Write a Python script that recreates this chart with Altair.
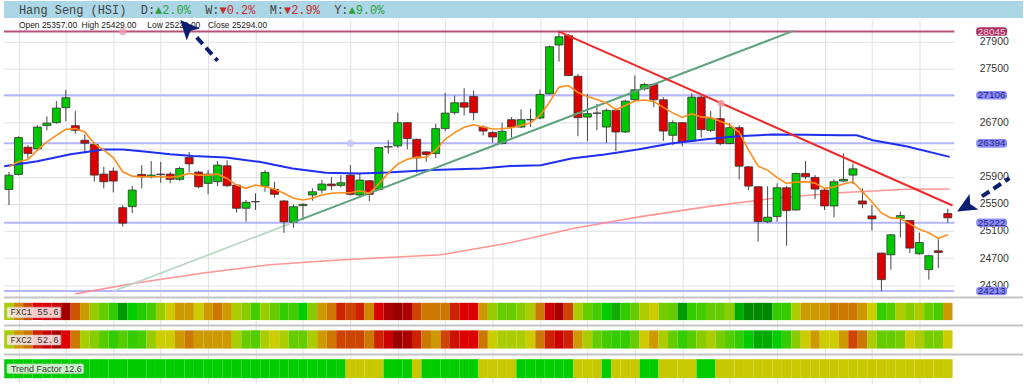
import altair as alt
import pandas as pd

# ---------------- data ----------------
opens = [25713, 25935, 26337, 26312, 26656, 26700, 26921, 26656, 26440, 26377,
         25940, 25984, 25444, 25459, 25935, 25900, 25940, 25940, 25862, 26185,
         25969, 25803, 25827, 26062, 25778, 25435, 25530, 25763, 25715, 25543,
         25229, 25474, 25631, 25704, 25793, 25773, 25925, 25631, 25841, 25715,
         26340, 26356, 26700, 26454, 26268, 26244, 26612, 26847, 26994, 27087,
         26635, 26553, 26391, 26744, 26635, 26740, 26768, 27126, 27847, 27984,
         27385, 26782, 26838, 26635, 26881, 26562, 27038, 27200, 27263, 27038,
         26513, 26700, 26429, 27076, 26587, 26759, 26391, 26626, 26047, 25753,
         25238, 25312, 25738, 25410, 25950, 25891, 25704, 25469, 25837, 25925,
         25543, 25322, 24773, 24748, 25288, 25253, 24763, 24528, 24807, 25357]
highs = [25972, 26499, 26367, 26660, 26793, 27018, 27185, 26871, 26523, 26391,
         26047, 26038, 25484, 25768, 26072, 26131, 26121, 25972, 26047, 26268,
         25988, 25998, 26131, 26145, 25793, 25557, 25656, 25998, 25827, 25557,
         25494, 25509, 25729, 25852, 25900, 25925, 26072, 25940, 25852, 26341,
         26440, 26847, 26709, 26465, 26278, 26685, 27141, 27100, 27209, 27175,
         26660, 26576, 26700, 26782, 26896, 26906, 27190, 27837, 28045, 28009,
         27421, 27126, 26979, 26906, 26906, 27038, 27396, 27288, 27282, 27076,
         26734, 26709, 27135, 27100, 26871, 27028, 26694, 26660, 26057, 25763,
         25760, 25803, 25763, 25959, 26135, 25925, 25729, 25862, 26244, 26097,
         25729, 25484, 24778, 25053, 25385, 25263, 25077, 24748, 24979, 25429]
lows = [25484, 25920, 26171, 26293, 26587, 26685, 26719, 26538, 26244, 25830,
        25729, 25671, 25165, 25362, 25729, 25876, 25812, 25803, 25841, 25972,
        25729, 25641, 25763, 25748, 25371, 25238, 25410, 25679, 25591, 25072,
        25150, 25263, 25547, 25656, 25704, 25744, 25621, 25606, 25543, 25704,
        26244, 26327, 26307, 25959, 26121, 26179, 26572, 26818, 26807, 26734,
        26513, 26406, 26377, 26479, 26621, 26635, 26749, 27116, 27601, 27388,
        26499, 26425, 26587, 26400, 26282, 26547, 27003, 27175, 26929, 26429,
        26366, 26351, 26415, 26479, 26562, 26366, 26381, 25862, 25704, 24944,
        25215, 25238, 24881, 25400, 25862, 25570, 25410, 25303, 25827, 25793,
        25435, 25106, 24213, 24528, 25003, 24773, 24748, 24381, 24553, 25222]
closes = [25924, 26479, 26244, 26635, 26694, 26915, 27068, 26587, 26396, 25925,
          25827, 25837, 25215, 25704, 25900, 25925, 25930, 25862, 26023, 26091,
          25753, 25940, 26072, 25768, 25435, 25523, 25535, 25965, 25641, 25234,
          25459, 25494, 25679, 25793, 25768, 25812, 25641, 25852, 25641, 26332,
          26345, 26700, 26465, 26179, 26230, 26612, 26841, 26994, 26929, 26847,
          26576, 26488, 26572, 26635, 26744, 26748, 27116, 27822, 27969, 27396,
          26773, 26832, 26843, 26881, 26562, 27018, 27185, 27263, 27038, 26576,
          26700, 26415, 27076, 26597, 26759, 26391, 26626, 26057, 25763, 25238,
          25303, 25738, 25400, 25950, 25900, 25719, 25469, 25827, 25862, 26018,
          25499, 25278, 24381, 25043, 25327, 24847, 24929, 24734, 24782, 25294]

# short moving average (orange), one value per candle
ma_fast = [26047, 26121, 26156, 26293, 26415, 26513, 26601, 26612, 26562, 26391,
           26293, 26185, 25974, 25910, 25900, 25900, 25900, 25891, 25910, 25950,
           25925, 25925, 25940, 25876, 25778, 25729, 25778, 25753, 25715, 25656,
           25582, 25557, 25582, 25631, 25656, 25665, 25665, 25694, 25656, 25793,
           25954, 26087, 26160, 26190, 26185, 26293, 26454, 26553, 26631, 26668,
           26635, 26606, 26609, 26626, 26660, 26694, 26807, 27003, 27224, 27249,
           27146, 27087, 27043, 26991, 26891, 26954, 27021, 27035, 27013, 26925,
           26844, 26778, 26832, 26785, 26774, 26719, 26665, 26557, 26293, 26057,
           25999, 25888, 25803, 25822, 25829, 25807, 25729, 25749, 25793, 25826,
           25682, 25528, 25366, 25293, 25285, 25204, 25123, 25072, 24991, 25043]

# medium moving average (blue), sampled
ma_mid_x = [-0.5, 3, 6.5, 10, 12, 14, 17, 19.4, 22.9, 26.4, 29.9, 33.4, 36.9, 39.9,
            44.6, 49.8, 53, 56.1, 59.3, 62.8, 66.3, 69.8, 73.3, 76.8, 80.6, 84,
            87.6, 89.4, 91.1, 94.6, 99.2]
ma_mid_v = [26057, 26131, 26234, 26303, 26303, 26278, 26234, 26209, 26185, 26121,
            26023, 25959, 25950, 25962, 25999, 26023, 26060, 26072, 26171, 26229,
            26303, 26391, 26450, 26499, 26524, 26521, 26513, 26513, 26440, 26351,
            26194]

# long moving average (salmon), sampled
ma_slow_x = [7.0, 13.4, 20.5, 27.5, 35.2, 45.6, 52.7, 59.6, 66.6, 73.7, 80.6, 87.6, 94.6, 99.2]
ma_slow_v = [24170, 24332, 24479, 24601, 24675, 24748, 24921, 25141, 25312, 25459,
             25582, 25665, 25715, 25719]

# trend lines
up_trend_pale_x = [11.0, 29.9]
up_trend_pale_v = [24209, 25222]
up_trend_x = [29.9, 82.7]
up_trend_v = [25222, 28055]
down_trend_x = [58.0, 99.5]
down_trend_v = [28045, 25476]
handle_x = [12.0, 36.0, 75.1]
handle_v = [28045, 26394, 26985]
handle_c = ["#e8a0b8", "#c4c4ff", "#f2a0a8"]

# horizontal levels
levels = [28045, 27106, 26394, 25222, 24213]
level_line = ["#b8507a", "#b4b4ff", "#b4b4ff", "#b4b4ff", "#b4b4ff"]
level_fill = ["#a8325f", "#8c8cff", "#8c8cff", "#8c8cff", "#8c8cff"]
level_text = ["#f6d0de", "#26267a", "#26267a", "#26267a", "#26267a"]
tick_values = [24300, 24700, 25100, 25500, 25900, 26300, 26700, 27100, 27500, 27900]
hidden_ticks = [26300, 27100]   # covered by level tags in the picture

# arrows (annotation)
arrow1_x = [22.0, 19.8]
arrow1_v = [27615, 27960]
arrow1_head = (18.85, 28095)
arrow2_x = [105.5, 102.6]
arrow2_v = [25880, 25610]
arrow2_head = (101.0, 25470)

# indicator strips
fxc1 = ["#aacc00", "#cc8800", "#cc4400", "#dd0000", "#dd0000", "#cc0000", "#a00000", "#cc5500", "#cc9900", "#99cc00",
        "#66cc00", "#33cc00", "#009900", "#00cc00", "#22cc00", "#44cc00", "#99cc00", "#cccc00", "#cc9900", "#cc9900",
        "#cccc00", "#cc9900", "#cc7700", "#cc9900", "#aacc00", "#88cc00", "#44cc00", "#99cc00", "#66cc00", "#33cc00",
        "#44cc00", "#00cc00", "#88cc00", "#cc9900", "#cc7700", "#cc2200", "#cc4400", "#cc2200", "#cc8800", "#dd0000",
        "#aa0000", "#990000", "#aa0000", "#cc4400", "#cc7700", "#cc7700", "#cc7700", "#cc2200", "#dd0000", "#dd0000",
        "#cc9900", "#99cc00", "#66cc00", "#66cc00", "#88cc00", "#aacc00", "#cc7700", "#cc0000", "#aa0000", "#cc4400",
        "#aacc00", "#66cc00", "#44cc00", "#00cc00", "#11aa00", "#33cc00", "#66cc00", "#aacc00", "#cccc00", "#77cc00",
        "#66cc00", "#009900", "#33cc00", "#44cc00", "#66cc00", "#66cc00", "#88cc00", "#00aa00", "#008800", "#008800",
        "#008800", "#33cc00", "#33cc00", "#aacc00", "#cc9900", "#cc9900", "#cc9900", "#cc7700", "#cc7700", "#cc7700",
        "#cc9900", "#cccc00", "#33cc00", "#55cc00", "#aacc00", "#88cc00", "#aacc00", "#66cc00", "#44cc00", "#cc9900"]
fxc2 = ["#aacc00", "#cc9900", "#cc7700", "#cc2200", "#cc0000", "#aa0000", "#dd0000", "#cc7700", "#aacc00", "#88cc00",
        "#55cc00", "#33cc00", "#55cc00", "#33cc00", "#44cc00", "#99cc00", "#cccc00", "#cccc00", "#cc9900", "#cc7700",
        "#cc9900", "#cc9900", "#cc9900", "#cc9900", "#aacc00", "#66cc00", "#55cc00", "#aacc00", "#cccc00", "#aacc00",
        "#66cc00", "#66cc00", "#aacc00", "#cc9900", "#cc7700", "#cc4400", "#cc4400", "#cc4400", "#cc7700", "#cc2200",
        "#cc0000", "#990000", "#aa0000", "#cc2200", "#cc7700", "#cc9900", "#cc4400", "#cc1100", "#dd0000", "#dd0000",
        "#cc7700", "#cccc00", "#aacc00", "#aacc00", "#aacc00", "#cccc00", "#cc7700", "#cc2200", "#cc0000", "#cc2200",
        "#cc9900", "#aacc00", "#66cc00", "#44cc00", "#33cc00", "#33cc00", "#66cc00", "#cccc00", "#cc9900", "#aacc00",
        "#66cc00", "#33cc00", "#55cc00", "#88cc00", "#aacc00", "#77cc00", "#55cc00", "#33cc00", "#00cc00", "#00aa00",
        "#00aa00", "#00cc00", "#33cc00", "#88cc00", "#cccc00", "#cc9900", "#cccc00", "#cccc00", "#cc9900", "#cc4400",
        "#cc7700", "#aacc00", "#66cc00", "#66cc00", "#77cc00", "#cccc00", "#aacc00", "#77cc00", "#77cc00", "#cccc00"]
trend_factor = list("GGGGGGGGGG" "GGGGGGGGGG" "GGGGGGGGGG" "GGGGGGYYYY" "GGGYGGGGGG"
                    "YYYYGGGGGG" "YYYGYYYGGY" "YYYGGYYYYY" "YYYYYYYYYY" "YYYYYYYYYY")
trend_colors = {"G": "#00cc00", "Y": "#c8c800"}

# ---------------- build tables ----------------
n = len(closes)
cd = pd.DataFrame({"i": list(range(n)), "open": opens, "high": highs, "low": lows, "close": closes})
cd["x0"] = cd["i"] - 0.42
cd["x1"] = cd["i"] + 0.42
cd["top"] = cd[["open", "close"]].max(axis=1)
cd["bot"] = cd[["open", "close"]].min(axis=1)
cd["col"] = ["#00c800" if c >= o else "#dd0000" for o, c in zip(opens, closes)]
fast_df = pd.DataFrame({"i": list(range(n)), "v": ma_fast})
mid_df = pd.DataFrame({"i": ma_mid_x, "v": ma_mid_v})
slow_df = pd.DataFrame({"i": ma_slow_x, "v": ma_slow_v})
lev_df = pd.DataFrame({"v": levels, "lc": level_line, "fc": level_fill, "tc": level_text,
                       "lab": [str(v) for v in levels]})
one = pd.DataFrame({"k": [0]})

W = 955
H = 278
xscale = alt.Scale(domain=[-0.525, 99.69], nice=False, zero=False)
yscale = alt.Scale(domain=[24146, 28233], nice=False, zero=False)
xaxis = alt.Axis(values=list(range(1, 100, 5)), grid=True, gridColor="#e2e2e2", gridWidth=1,
                 labels=False, ticks=False, domain=False, title=None)
hide_expr = " || ".join("datum.value == %d" % v for v in hidden_ticks)
yaxis = alt.Axis(orient="right", values=tick_values, format="d", grid=True, gridColor="#e2e2e2",
                 gridWidth=1, ticks=False, domain=False, labelPadding=25, labelFont="Liberation Sans",
                 labelFontSize=10.5, labelColor="#333333", title=None,
                 labelExpr="(%s) ? '' : datum.label" % hide_expr)


def X(f):
    return alt.X(f, type="quantitative", scale=xscale, axis=xaxis)


def Y(f):
    return alt.Y(f, type="quantitative", scale=yscale, axis=yaxis)


def line(df, color, width, opacity=1.0, dash=None):
    kw = dict(color=color, strokeWidth=width, opacity=opacity)
    if dash:
        kw["strokeDash"] = dash
    return alt.Chart(df).mark_line(**kw).encode(x=X("i"), y=Y("v"))


def txt(text, x, y, color, font, size, align="left", weight="normal"):
    return alt.Chart(one).mark_text(text=text, align=align, baseline="middle", font=font,
                                    fontSize=size, color=color, fontWeight=weight).encode(
        x=alt.value(x), y=alt.value(y))


levels_layer = alt.Chart(lev_df).mark_rule(strokeWidth=2).encode(
    y=Y("v"), color=alt.Color("lc:N", scale=None))

slow_layer = line(slow_df, "#ff8a8a", 1.6, 0.9)
pale_trend = line(pd.DataFrame({"i": up_trend_pale_x, "v": up_trend_pale_v}), "#b9d9c6", 1.8)
wicks = alt.Chart(cd).mark_rule(color="#444444", strokeWidth=1).encode(x=X("i"), y=Y("low"), y2="high")
bodies = alt.Chart(cd).mark_rect(stroke="#333333", strokeWidth=0.8).encode(
    x=X("x0"), x2="x1", y=Y("bot"), y2="top", color=alt.Color("col:N", scale=None))
mid_layer = line(mid_df, "#1f2ff0", 2.0)
up_trend = line(pd.DataFrame({"i": up_trend_x, "v": up_trend_v}), "#5ea37d", 2.0)
fast_layer = line(fast_df, "#ff8c1a", 1.6)
down_trend = line(pd.DataFrame({"i": down_trend_x, "v": down_trend_v}), "#ee2a2a", 2.0)
handles = alt.Chart(pd.DataFrame({"i": handle_x, "v": handle_v, "c": handle_c})).mark_point(
    filled=True, size=55, opacity=0.8).encode(x=X("i"), y=Y("v"), color=alt.Color("c:N", scale=None))

tag_rect = alt.Chart(lev_df).transform_calculate(
    t="datum.v + 63", b="datum.v - 63").mark_rect(cornerRadius=3).encode(
    x=alt.value(977), x2=alt.value(1008), y=Y("t:Q"), y2="b:Q", color=alt.Color("fc:N", scale=None))
tag_text = alt.Chart(lev_df).mark_text(align="center", baseline="middle", font="Liberation Sans",
                                       fontSize=10).encode(
    x=alt.value(992.5), y=Y("v"), text="lab:N", color=alt.Color("tc:N", scale=None))

top_bar = alt.Chart(one).mark_rect(color="#abd6e6").encode(
    x=alt.value(0), x2=alt.value(1024), y=alt.value(-18), y2=alt.value(-1))

mono = "Liberation Mono, DejaVu Sans Mono, monospace"
sans = "Liberation Sans, Arial, sans-serif"
cw = 7.2
by = -9
title_parts = [
    txt("Hang Seng (HSI)", 15, by, "#444444", mono, 12),
    txt("D:", 15 + 17 * cw, by, "#444444", mono, 12),
    txt("▲2.0%", 15 + 19 * cw, by, "#2f9e3a", mono, 12),
    txt("W:", 15 + 26 * cw, by, "#444444", mono, 12),
    txt("▼0.2%", 15 + 28 * cw, by, "#cc2a2a", mono, 12),
    txt("M:", 15 + 35 * cw, by, "#444444", mono, 12),
    txt("▼2.9%", 15 + 37 * cw, by, "#cc2a2a", mono, 12),
    txt("Y:", 15 + 44 * cw, by, "#444444", mono, 12),
    txt("▲9.0%", 15 + 46 * cw, by, "#2f9e3a", mono, 12),
]
ohlc_parts = [
    txt("Open 25357.00", 15, 6, "#222222", sans, 8.5),
    txt("High 25429.00", 78, 6, "#222222", sans, 8.5),
    txt("Low 25222.00", 144, 6, "#222222", sans, 8.5),
    txt("Close 25294.00", 205, 6, "#222222", sans, 8.5),
]

arrow_col = "#0c1f6e"
head_path = "M0,-1L0.8,0.75L0,0.35L-0.8,0.75Z"
arrow1 = line(pd.DataFrame({"i": arrow1_x, "v": arrow1_v}), arrow_col, 4, 1.0, [9, 5])
arrow2 = line(pd.DataFrame({"i": arrow2_x, "v": arrow2_v}), arrow_col, 4, 1.0, [9, 5])
head1 = alt.Chart(pd.DataFrame({"i": [arrow1_head[0]], "v": [arrow1_head[1]]})).mark_point(
    shape=head_path, filled=True, size=500, angle=318, color=arrow_col, opacity=1).encode(x=X("i"), y=Y("v"))
head2 = alt.Chart(pd.DataFrame({"i": [arrow2_head[0]], "v": [arrow2_head[1]]})).mark_point(
    shape=head_path, filled=True, size=500, angle=240, color=arrow_col, opacity=1).encode(x=X("i"), y=Y("v"))

main = alt.layer(
    levels_layer, slow_layer, pale_trend, wicks, bodies, mid_layer, up_trend, fast_layer,
    down_trend, handles, tag_rect, tag_text, top_bar, *title_parts, *ohlc_parts,
    arrow1, arrow2, head1, head2,
).properties(width=W, height=H)

# ---------------- indicator strips ----------------
sd = pd.DataFrame({"i": list(range(n)), "f1": fxc1, "f2": fxc2,
                   "tf": [trend_colors[t] for t in trend_factor]})
sd["x0"] = sd["i"] - 0.5
sd["x1"] = sd["i"] + 0.5
SH = 88
sy = alt.Scale(domain=[SH, 0], nice=False, zero=False)


def strip(field, y0, y1):
    return alt.Chart(sd).mark_rect().encode(
        x=X("x0"), x2="x1", y=alt.value(y0), y2=alt.value(y1), color=alt.Color(field + ":N", scale=None))


def sep(y):
    return alt.Chart(one).mark_rule(color="#c4c4c4", strokeWidth=2).encode(
        x=alt.value(0), x2=alt.value(1024), y=alt.value(y))


def box(x0, x1, y0, y1, fill):
    return alt.Chart(one).mark_rect(fill=fill, opacity=0.85, stroke="#d0d0d0", strokeWidth=0.6,
                                    cornerRadius=1).encode(
        x=alt.value(x0), x2=alt.value(x1), y=alt.value(y0), y2=alt.value(y1))


grid_base = alt.Chart(sd).mark_point(opacity=0).encode(x=X("i"), y=alt.Y("i:Q", scale=sy, axis=None))

strips = alt.layer(
    grid_base,
    sep(2), sep(30), sep(59.2),
    strip("f1", 7.3, 24.7), strip("f2", 35, 53.3), strip("tf", 64, 83),
    box(3, 57, 11.7, 22.3, "#fbeeee"), txt("FXC1 55.6", 6.5, 17, "#333333", mono, 9),
    box(3, 57, 39.7, 49.7, "#fbeeee"), txt("FXC2 52.6", 6.5, 44.7, "#333333", mono, 9),
    box(3, 80, 68.7, 78.3, "#eef9ee"), txt("Trend Factor 12.6", 7, 73.5, "#333333", sans, 9),
).properties(width=W, height=SH)

chart = alt.vconcat(main, strips, spacing=0, bounds="flush").configure_view(
    stroke=None).properties(padding=0, background="white")

chart.save("out.html", embed_options={"renderer": "svg", "actions": False})
